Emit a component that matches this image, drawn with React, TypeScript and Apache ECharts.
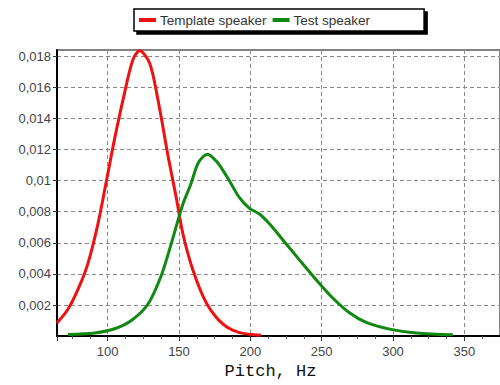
import React, { useEffect, useRef } from "react";
import * as echarts from "echarts";

const templateHz = [64.5, 72.2, 79.2, 86.2, 93.2, 99.1, 104.9, 111.9, 117.7, 122.4, 129.4, 135.2, 142.2, 148.1, 152.7, 159.7, 169.1, 180.7, 192.4, 207.6];
const templateVal = [0.00085, 0.00173, 0.003, 0.00468, 0.00722, 0.00996, 0.0127, 0.01566, 0.01777, 0.01835, 0.01756, 0.01523, 0.01165, 0.0089, 0.0066, 0.00427, 0.00215, 0.00078, 0.00022, 0.00005];

const testHz = [72.2, 90.9, 104.9, 116.6, 128.2, 137.6, 144.6, 152.7, 158, 163, 167, 170.2, 174, 178.4, 185.5, 192.4, 199.4, 206.4, 213.4, 222.7, 234.4, 246.1, 257.8, 269.5, 281.2, 297.6, 316.3, 342];
const testVal = [0.0001, 0.0002, 0.00047, 0.001, 0.00205, 0.0039, 0.00595, 0.00848, 0.0097, 0.01105, 0.01155, 0.01169, 0.01145, 0.011, 0.00996, 0.0089, 0.00822, 0.00785, 0.00722, 0.0062, 0.0049, 0.00363, 0.00245, 0.0015, 0.00088, 0.00045, 0.0002, 0.00008];

const seriesNames = ["Template speaker", "Test speaker"];
const xName = "Pitch, Hz";

function fmtY(v: number): string {
  let s = v.toFixed(3).replace(/0+$/, "").replace(/\.$/, "");
  return s.replace(".", ",");
}

export default function App() {
  const ref = useRef<HTMLDivElement>(null);
  useEffect(() => {
    const chart = echarts.init(ref.current!, null, { renderer: "svg" });
    const font = "Liberation Sans, Arial, sans-serif";
    chart.setOption({
      animation: false,
      backgroundColor: "#ffffff",
      legend: {
        left: 134,
        top: 9,
        padding: [4, 54, 4, 5],
        itemWidth: 17,
        itemHeight: 4,
        itemGap: 6,
        icon: "rect",
        borderColor: "#000",
        borderWidth: 1.5,
        borderRadius: 0,
        backgroundColor: "#fff",
        shadowColor: "#000",
        shadowOffsetX: 3,
        shadowOffsetY: 3,
        shadowBlur: 0,
        textStyle: { fontFamily: font, fontSize: 13.5, color: "#333", padding: [0, 0, 0, -1] },
        data: seriesNames,
      },
      grid: {
        left: 57,
        top: 50,
        right: 0,
        bottom: 44,
        show: true,
        borderColor: "#000",
        borderWidth: 1,
        backgroundColor: "transparent",
      },
      xAxis: {
        type: "value",
        min: 64.5,
        max: 375,
        splitNumber: 6,
        name: xName,
        nameLocation: "middle",
        nameGap: 23,
        nameTextStyle: {
          fontFamily: "Liberation Mono, Courier New, monospace",
          fontSize: 17,
          color: "#111",
          padding: [0, 16, 0, 0],
        },
        axisLine: { show: true, onZero: false, lineStyle: { color: "#000", width: 2 } },
        axisTick: { show: true, inside: false, length: 5, lineStyle: { color: "#333" } },
        minorTick: { show: true, splitNumber: 4, length: 3, lineStyle: { color: "#555" } },
        axisLabel: {
          showMinLabel: false,
          showMaxLabel: false,
          fontFamily: font,
          fontSize: 13,
          color: "#444",
          margin: 9,
        },
        splitLine: { show: true, lineStyle: { color: "#888", type: [4, 3], width: 1 } },
      },
      yAxis: {
        type: "value",
        min: 0,
        max: 0.0184,
        splitNumber: 9,
        axisLine: { show: true, lineStyle: { color: "#000", width: 2 } },
        axisTick: { show: true, inside: false, length: 4, lineStyle: { color: "#333" } },
        axisLabel: {
          showMinLabel: false,
          showMaxLabel: false,
          fontFamily: font,
          fontSize: 13,
          color: "#444",
          margin: 6,
          formatter: (v: number) => fmtY(v),
        },
        splitLine: { show: true, lineStyle: { color: "#888", type: [4, 3], width: 1 } },
      },
      series: [
        {
          name: seriesNames[0],
          type: "line",
          smooth: 0.3,
          showSymbol: false,
          symbol: "none",
          color: "#ee1111",
          lineStyle: { color: "#ee1111", width: 3 },
          data: templateHz.map((x, i) => [x, templateVal[i]]),
        },
        {
          name: seriesNames[1],
          type: "line",
          smooth: 0.3,
          showSymbol: false,
          symbol: "none",
          color: "#118811",
          lineStyle: { color: "#118811", width: 3 },
          data: testHz.map((x, i) => [x, testVal[i]]),
        },
      ],
    });
    return () => chart.dispose();
  }, []);
  return (
    <div
      ref={ref}
      style={{ position: "fixed", left: 0, top: 0, width: 500, height: 385 }}
    />
  );
}
